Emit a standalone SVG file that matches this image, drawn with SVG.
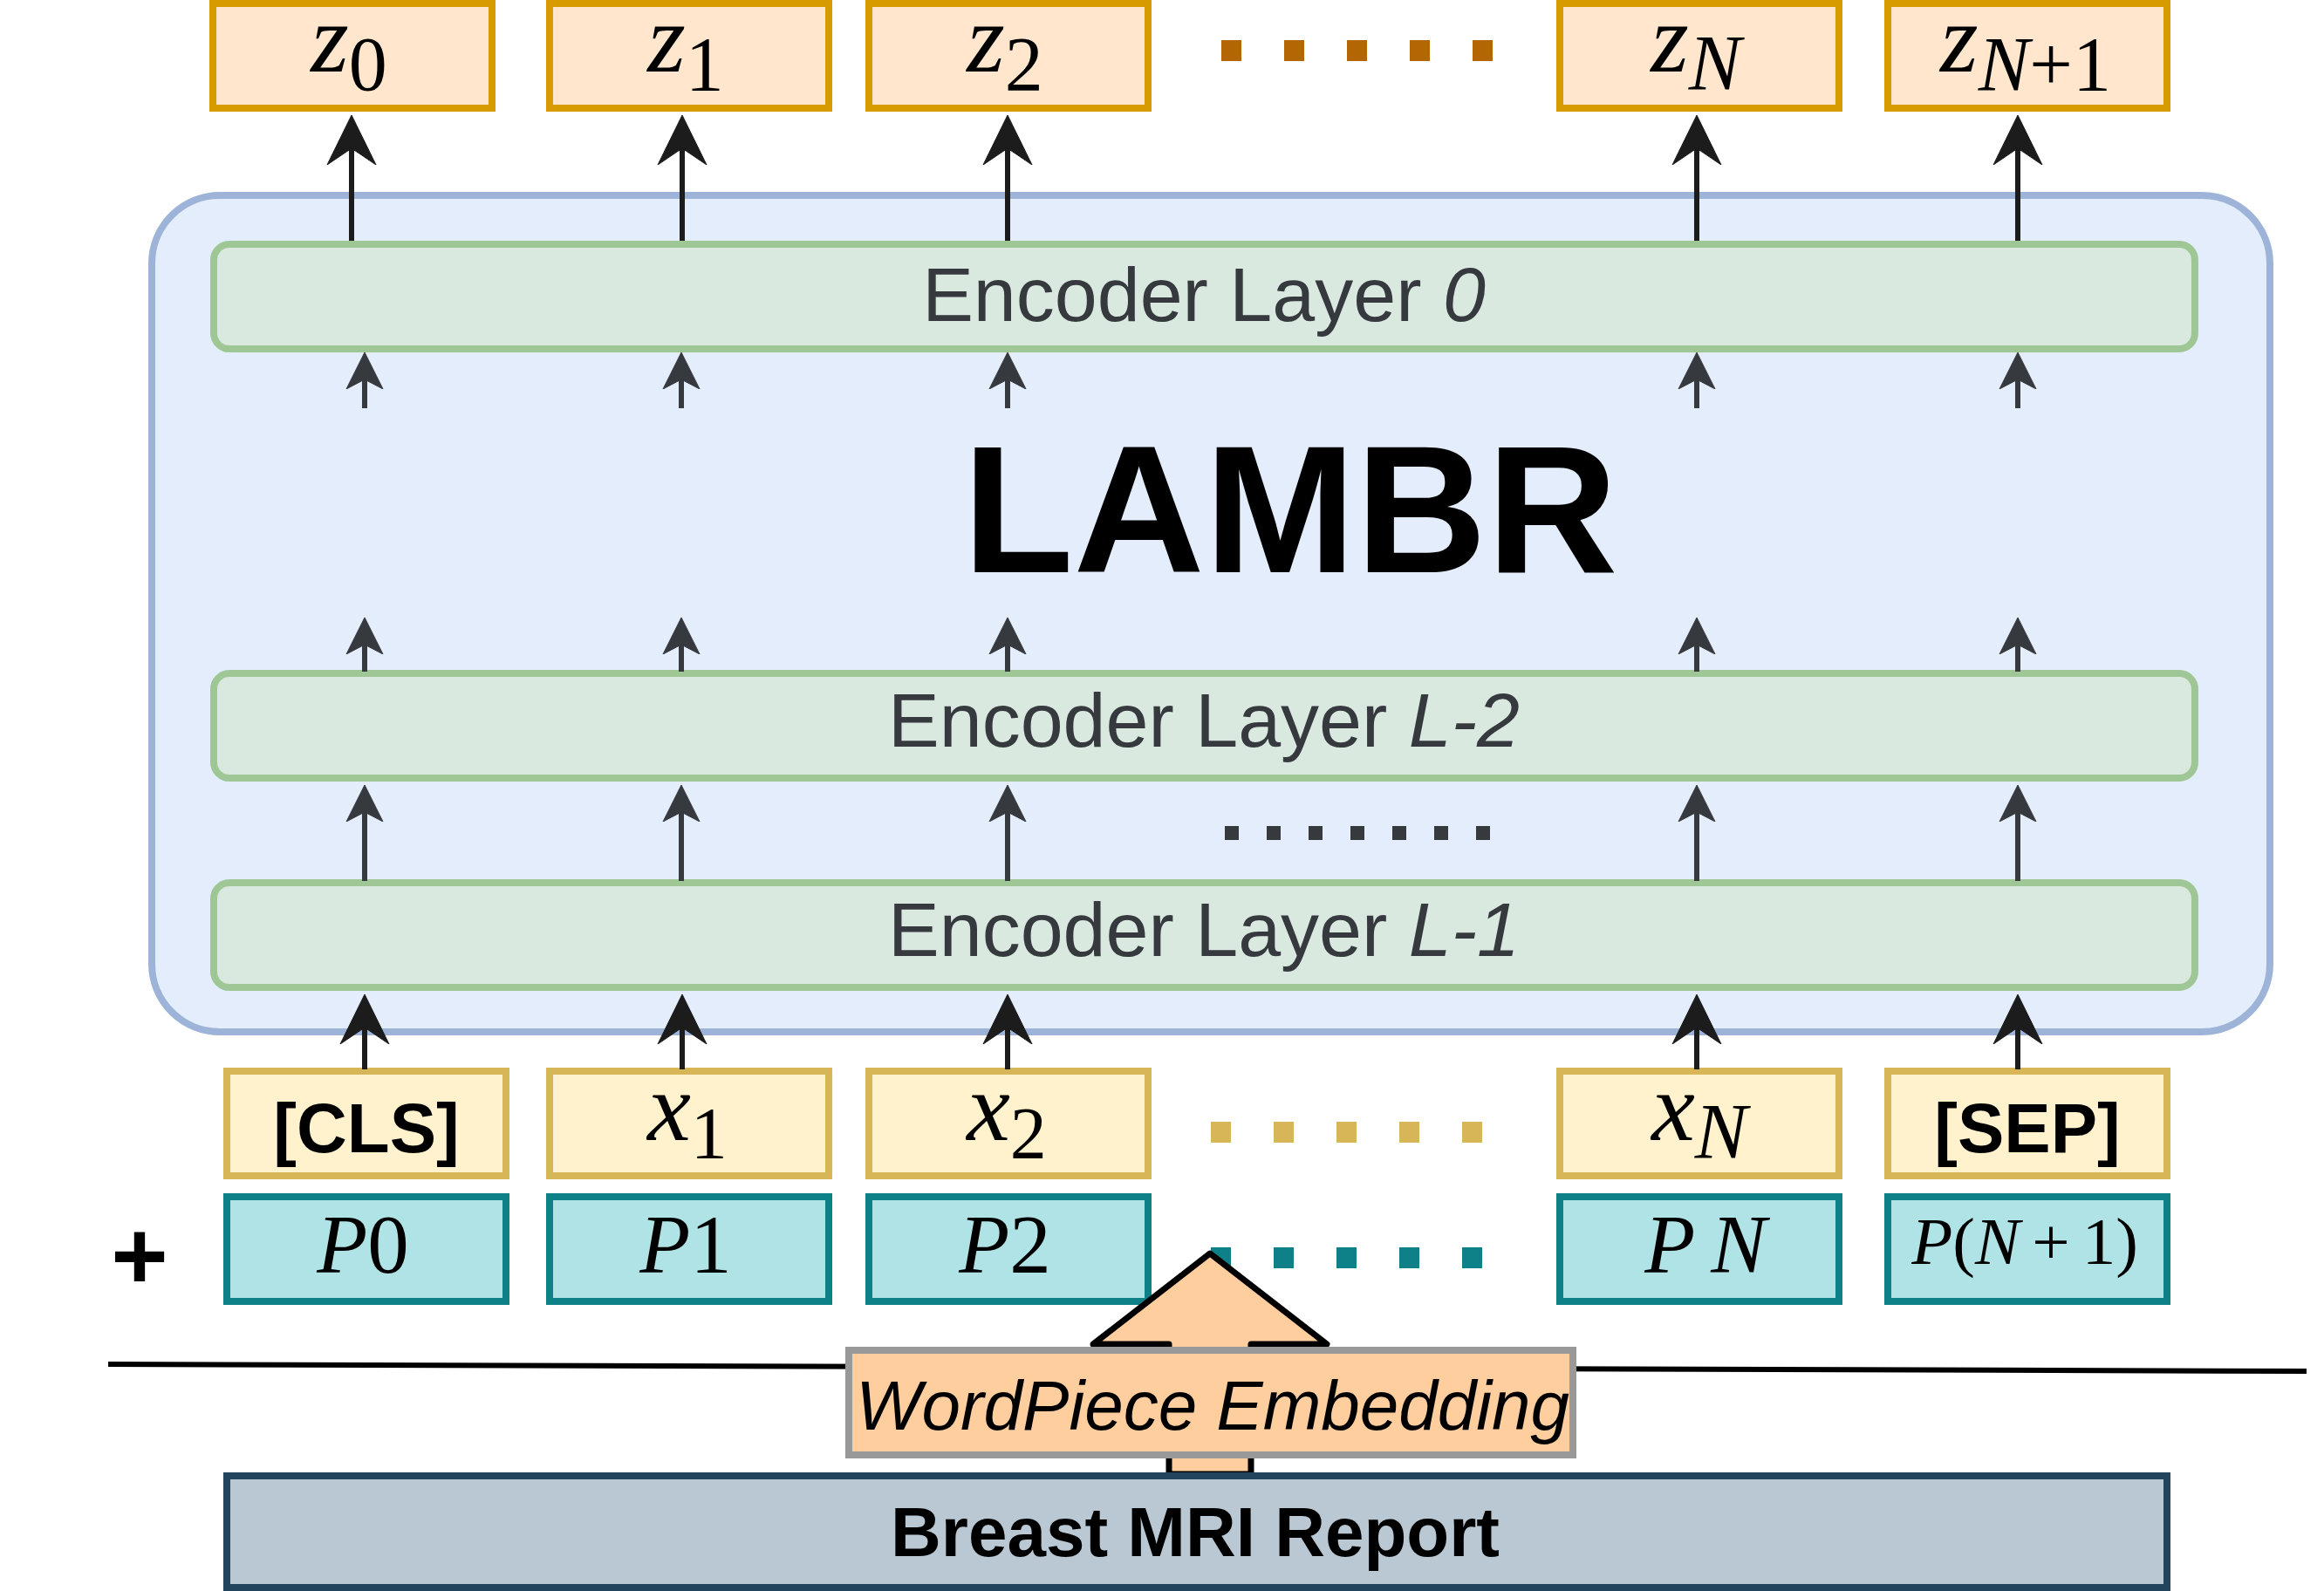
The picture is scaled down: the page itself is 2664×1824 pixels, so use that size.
<svg xmlns="http://www.w3.org/2000/svg" width="2664" height="1824" viewBox="0 0 2664 1824">
<defs>
<style>
.zbox{fill:#FFE6CC;stroke:#D79B00;stroke-width:8}
.xbox{fill:#FFF2CC;stroke:#D6B656;stroke-width:8}
.pbox{fill:#B0E3E6;stroke:#0E8088;stroke-width:8}
.layer{fill:#D9E9E0;stroke:#9FC695;stroke-width:8}
.math{font-family:"Liberation Serif","DejaVu Serif",serif;fill:#000}
.it{font-style:italic}
.lbl{font-family:"Liberation Sans",Arial,sans-serif;font-size:88px;fill:#36393D;text-anchor:middle}
.bold{font-family:"Liberation Sans",Arial,sans-serif;font-weight:bold;fill:#000;text-anchor:middle}
.big{stroke:#1c1c1c;stroke-width:6;fill:none;marker-end:url(#bigHead)}
.small{stroke:#36393D;stroke-width:6;fill:none;marker-end:url(#smallHead)}
</style>
<marker id="bigHead" markerUnits="userSpaceOnUse" viewBox="0 -30 60 60" markerWidth="60" markerHeight="60" refX="19" refY="0" orient="auto">
<path d="M57,0 L0,-28 L19,0 L0,28 Z" fill="#1c1c1c" stroke="#1c1c1c" stroke-width="1"/>
</marker>
<marker id="smallHead" markerUnits="userSpaceOnUse" viewBox="0 -24 46 48" markerWidth="46" markerHeight="48" refX="11" refY="0" orient="auto">
<path d="M42,0 L0,-21 L11,0 L0,21 Z" fill="#36393D" stroke="#36393D" stroke-width="1"/>
</marker>
</defs>
<rect width="2664" height="1824" fill="#FFFFFF"/>

<g id="lambr-container">
<rect x="174" y="224" width="2428" height="959" rx="78" ry="78" fill="#E3EDFB" stroke="#9DB4D8" stroke-width="8"/>
<text x="1479" y="656" class="bold" font-size="208">LAMBR</text>
</g>

<g id="encoder-layer-0">
<rect class="layer" x="245" y="280" width="2271" height="120" rx="18" ry="18"/>
<text class="lbl" x="1380" y="368">Encoder Layer <tspan class="it">0</tspan></text>
</g>
<g id="encoder-layer-L-2">
<rect class="layer" x="245" y="772" width="2271" height="120" rx="18" ry="18"/>
<text class="lbl" x="1380" y="856">Encoder Layer <tspan class="it">L-2</tspan></text>
</g>
<g id="encoder-layer-L-1">
<rect class="layer" x="245" y="1012" width="2271" height="120" rx="18" ry="18"/>
<text class="lbl" x="1380" y="1096">Encoder Layer <tspan class="it">L-1</tspan></text>
</g>

<g id="layer-dots">
<line x1="1404" y1="955" x2="1709" y2="955" stroke="#36393D" stroke-width="16" stroke-dasharray="16 32"/>
</g>

<g id="z0"><rect class="zbox" x="244" y="4" width="320" height="120"/><text class="math" x="400" y="82" text-anchor="middle"><tspan class="it" font-size="112">z</tspan><tspan font-size="88" dy="21">0</tspan></text></g>
<g id="z1"><rect class="zbox" x="630" y="4" width="320" height="120"/><text class="math" x="786" y="82" text-anchor="middle"><tspan class="it" font-size="112">z</tspan><tspan font-size="88" dy="21">1</tspan></text></g>
<g id="z2"><rect class="zbox" x="996" y="4" width="320" height="120"/><text class="math" x="1152" y="82" text-anchor="middle"><tspan class="it" font-size="112">z</tspan><tspan font-size="88" dy="21">2</tspan></text></g>
<g id="zN"><rect class="zbox" x="1788" y="4" width="320" height="120"/><text class="math" x="1944" y="82" text-anchor="middle"><tspan class="it" font-size="112">z</tspan><tspan class="it" font-size="90" dy="21">N</tspan></text></g>
<g id="zN1"><rect class="zbox" x="2164" y="4" width="320" height="120"/><text class="math" x="2322" y="82" text-anchor="middle"><tspan class="it" font-size="112">z</tspan><tspan class="it" font-size="88" dy="21">N</tspan><tspan font-size="88">+1</tspan></text></g>
<g id="z-dots"><line x1="1400" y1="58" x2="1712" y2="58" stroke="#B46504" stroke-width="24" stroke-dasharray="23 49"/></g>

<g id="cls"><rect class="xbox" x="260" y="1228" width="320" height="120"/><text class="bold" x="420" y="1321" font-size="80">[CLS]</text></g>
<g id="x1"><rect class="xbox" x="630" y="1228" width="320" height="120"/><text class="math" x="788" y="1307" text-anchor="middle"><tspan class="it" font-size="112">x</tspan><tspan font-size="84" dy="21">1</tspan></text></g>
<g id="x2"><rect class="xbox" x="996" y="1228" width="320" height="120"/><text class="math" x="1154" y="1307" text-anchor="middle"><tspan class="it" font-size="112">x</tspan><tspan font-size="84" dy="21">2</tspan></text></g>
<g id="xN"><rect class="xbox" x="1788" y="1228" width="320" height="120"/><text class="math" x="1948" y="1307" text-anchor="middle"><tspan class="it" font-size="112">x</tspan><tspan class="it" font-size="90" dy="21">N</tspan></text></g>
<g id="sep"><rect class="xbox" x="2164" y="1228" width="320" height="120"/><text class="bold" x="2324" y="1321" font-size="80">[SEP]</text></g>
<g id="x-dots"><line x1="1388" y1="1298" x2="1700" y2="1298" stroke="#D6B656" stroke-width="24" stroke-dasharray="23 49"/></g>

<g id="plus"><text class="bold" x="160" y="1478" font-size="112">+</text></g>
<g id="p0"><rect class="pbox" x="260" y="1372" width="320" height="120"/><text class="math" x="416" y="1459" text-anchor="middle" font-size="95"><tspan class="it">P</tspan>0</text></g>
<g id="p1"><rect class="pbox" x="630" y="1372" width="320" height="120"/><text class="math" x="786" y="1459" text-anchor="middle" font-size="95"><tspan class="it">P</tspan>1</text></g>
<g id="p2"><rect class="pbox" x="996" y="1372" width="320" height="120"/><text class="math" x="1152" y="1459" text-anchor="middle" font-size="95"><tspan class="it">P</tspan>2</text></g>
<g id="pN"><rect class="pbox" x="1788" y="1372" width="320" height="120"/><text class="math it" x="1955" y="1459" text-anchor="middle" font-size="95">P<tspan dx="18">N</tspan></text></g>
<g id="pN1"><rect class="pbox" x="2164" y="1372" width="320" height="120"/><text class="math" x="2321" y="1449" text-anchor="middle" font-size="77"><tspan class="it">P</tspan>(<tspan class="it">N</tspan><tspan dx="14">+</tspan><tspan dx="14">1)</tspan></text></g>
<g id="p-dots"><line x1="1388" y1="1442" x2="1700" y2="1442" stroke="#0E8088" stroke-width="24" stroke-dasharray="23 49"/></g>

<g id="separator"><line x1="124" y1="1564" x2="2644" y2="1572" stroke="#000" stroke-width="6"/></g>

<g id="embedding-arrow">
<polygon points="1340,1690 1340,1541 1253,1541 1387,1437 1521,1541 1434,1541 1434,1690" fill="#FFCE9F" stroke="#000" stroke-width="7" stroke-linejoin="round"/>
</g>
<g id="wordpiece">
<rect x="973" y="1548" width="830" height="120" fill="#FFCE9F" stroke="#999999" stroke-width="8"/>
<text x="1390" y="1639" font-family="Liberation Sans, Arial, sans-serif" font-style="italic" font-size="80" fill="#000" text-anchor="middle">WordPiece Embedding</text>
</g>
<g id="report">
<rect x="260" y="1692" width="2224" height="128" fill="#BAC8D3" stroke="#23445D" stroke-width="8"/>
<text class="bold" x="1370" y="1784" font-size="80">Breast MRI Report</text>
</g>

<g id="connectors">
<line class="big" x1="403" y1="276" x2="403" y2="170"/>
<line class="big" x1="782" y1="276" x2="782" y2="170"/>
<line class="big" x1="1155" y1="276" x2="1155" y2="170"/>
<line class="big" x1="1945" y1="276" x2="1945" y2="170"/>
<line class="big" x1="2313" y1="276" x2="2313" y2="170"/>

<line class="small" x1="418" y1="468" x2="418" y2="435"/>
<line class="small" x1="781" y1="468" x2="781" y2="435"/>
<line class="small" x1="1155" y1="468" x2="1155" y2="435"/>
<line class="small" x1="1945" y1="468" x2="1945" y2="435"/>
<line class="small" x1="2313" y1="468" x2="2313" y2="435"/>

<line class="small" x1="418" y1="770" x2="418" y2="739"/>
<line class="small" x1="781" y1="770" x2="781" y2="739"/>
<line class="small" x1="1155" y1="770" x2="1155" y2="739"/>
<line class="small" x1="1945" y1="770" x2="1945" y2="739"/>
<line class="small" x1="2313" y1="770" x2="2313" y2="739"/>

<line class="small" x1="418" y1="1010" x2="418" y2="931"/>
<line class="small" x1="781" y1="1010" x2="781" y2="931"/>
<line class="small" x1="1155" y1="1010" x2="1155" y2="931"/>
<line class="small" x1="1945" y1="1010" x2="1945" y2="931"/>
<line class="small" x1="2313" y1="1010" x2="2313" y2="931"/>

<line class="big" x1="418" y1="1226" x2="418" y2="1178"/>
<line class="big" x1="782" y1="1226" x2="782" y2="1178"/>
<line class="big" x1="1155" y1="1226" x2="1155" y2="1178"/>
<line class="big" x1="1945" y1="1226" x2="1945" y2="1178"/>
<line class="big" x1="2313" y1="1226" x2="2313" y2="1178"/>
</g>
</svg>
